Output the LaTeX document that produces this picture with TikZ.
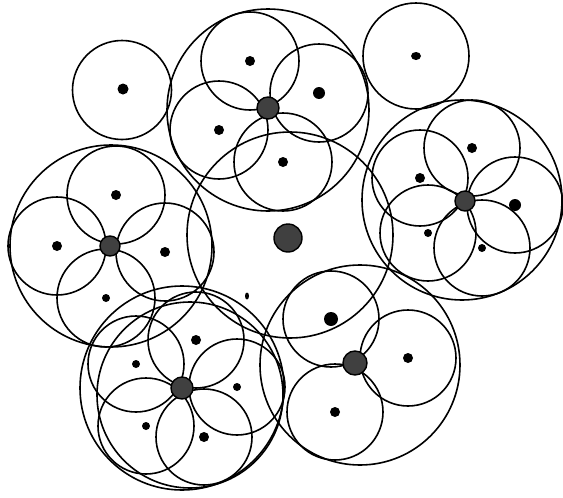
\documentclass[tikz,border=0pt]{standalone}
\usepackage{tikz}
\begin{document}
\begin{tikzpicture}[x=1pt,y=-1pt,
    ring/.style={draw=black,line width=1.6pt},
    seed/.style={fill=black},
    hub/.style={fill=black!75,draw=black,line width=1.4pt}]
    \useasboundingbox (0,0) rectangle (563,498);

    % lone circles
    \draw[ring] (122,90) circle (49.5);
    \fill[seed] (123,89) circle (5.5);
    \draw[ring] (416,56) circle (53);
    \fill[seed] (416,56) ellipse (5 and 4);

    % middle circle
    \draw[ring] (290,235) circle (103);

    % top group, four petals
    \draw[ring] (268,110) circle (101);
    \foreach \x/\y/\s in {250/61/5, 219/130/5, 319/93/6, 283/162/5} {
        \draw[ring] (\x,\y) circle (49);
        \fill[seed] (\x,\y) circle (\s);
    }

    % left group, four petals
    \draw[ring] (111,246) circle (101);
    \foreach \x/\y/\s in {116/195/5, 57/246/5, 165/252/5, 106/298/4} {
        \draw[ring] (\x,\y) circle (49);
        \fill[seed] (\x,\y) circle (\s);
    }

    % right group, five petals
    \draw[ring] (462,200) circle (100);
    \foreach \x/\y/\s in {472/148/5, 420/178/5, 515/205/6, 428/233/4, 482/248/4} {
        \draw[ring] (\x,\y) circle (48);
        \fill[seed] (\x,\y) circle (\s);
    }

    % lower left group, five petals
    \draw[ring] (182,388) circle (102);
    \draw[ring] (190,395) circle (93);
    \foreach \x/\y/\s in {196/340/5, 136/364/4, 237/387/4, 146/426/4, 204/437/5} {
        \draw[ring] (\x,\y) circle (48);
        \fill[seed] (\x,\y) circle (\s);
    }

    % lower right group, three petals
    \draw[ring] (360,365) circle (100);
    \foreach \x/\y/\s in {331/319/7, 408/358/5, 335/412/5} {
        \draw[ring] (\x,\y) circle (48);
        \fill[seed] (\x,\y) circle (\s);
    }

    % hubs
    \filldraw[hub] (288,238) circle (14);
    \filldraw[hub] (268,108) circle (11);
    \filldraw[hub] (110,246) circle (10);
    \filldraw[hub] (465,201) circle (10);
    \filldraw[hub] (182,388) circle (11);
    \filldraw[hub] (355,363) circle (12);
    \fill[seed] (247,296) ellipse (2 and 3.5);
\end{tikzpicture}
\end{document}
